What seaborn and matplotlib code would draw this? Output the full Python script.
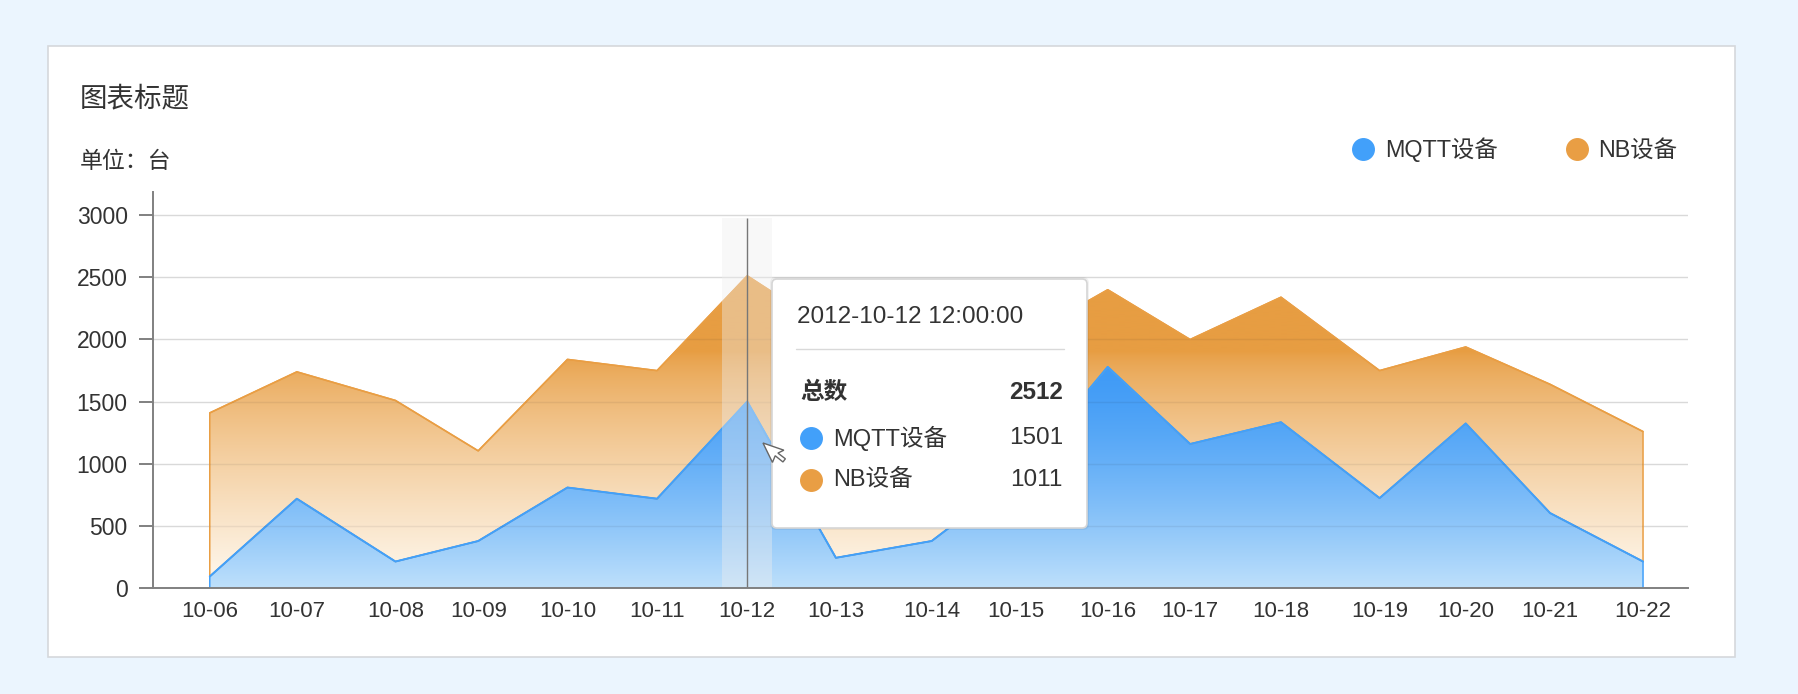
import numpy as np
import pandas as pd
import matplotlib
matplotlib.use("Agg")
import matplotlib.pyplot as plt
import matplotlib.dates as mdates
from matplotlib.patches import FancyBboxPatch, Rectangle, Polygon
from matplotlib.lines import Line2D
from matplotlib.transforms import Affine2D
import seaborn as sns

# --- Data ---
times = ["2012-10-06 12:00", "2012-10-07 11:20", "2012-10-08 13:45", "2012-10-09 11:55",
         "2012-10-10 11:50", "2012-10-11 11:50", "2012-10-12 12:00", "2012-10-13 11:45",
         "2012-10-14 13:25", "2012-10-15 12:00", "2012-10-16 12:35", "2012-10-17 10:40",
         "2012-10-18 11:00", "2012-10-19 13:25", "2012-10-20 12:30", "2012-10-21 11:05",
         "2012-10-22 12:00"]
mqtt = [95, 720, 215, 380, 810, 720, 1501, 245, 380, 895, 1780, 1160, 1335, 725, 1325, 605, 215]
nb = [1315, 1020, 1295, 725, 1030, 1030, 1011, 1805, 1820, 1085, 620, 840, 1005, 1025, 615, 1035, 1045]
series_names = ["MQTT设备", "NB设备"]
series_colors = ["#42A0FA", "#E99E44"]
y_ticks = [0, 500, 1000, 1500, 2000, 2500, 3000]
title = "图表标题"
unit_label = "单位：台"
total_label = "总数"
hover_index = 6

sns.set_theme(style="white")
plt.rcParams['font.family'] = ['Liberation Sans', 'Noto Sans CJK SC', 'DejaVu Sans']
text_color = '#333333'

df = pd.DataFrame({'time': pd.to_datetime(times), 'mqtt': mqtt, 'nb': nb})
df['total'] = df['mqtt'] + df['nb']
x = mdates.date2num(df['time'])

W, H = 1798, 694
fig = plt.figure(figsize=(W / 100, H / 100), dpi=100)
fig.patch.set_facecolor('#EBF5FE')
px = Affine2D().scale(1 / W, -1 / H).translate(0, 1) + fig.transFigure

# white card
fig.add_artist(Rectangle((48, 46), 1687, 611, transform=px, facecolor='white',
                         edgecolor='#d5d8dc', lw=1.2, zorder=-5))

ax = fig.add_axes([152.7 / W, 1 - 588.3 / H, (1688 - 152.7) / W, (588.3 - 191.7) / H])
ax.patch.set_alpha(0)

x0 = x[0] - 0.637
x1 = x[0] + 16.502
ytop = 3188
ax.set_xlim(x0, x1)
ax.set_ylim(0, ytop)


def gradient_area(lower, upper, color, top_rgb, bot_rgb, v_full, power):
    poly = ax.fill_between(x, lower, upper, facecolor='none', edgecolor=color, lw=1.1, zorder=2)
    v = np.linspace(ytop, 0, 500)
    t = np.clip((v_full - v) / v_full, 0, 1) ** power
    c_top = np.array(top_rgb) / 255
    c_bot = np.array(bot_rgb) / 255
    img = c_top[None, :] * (1 - t[:, None]) + c_bot[None, :] * t[:, None]
    im = ax.imshow(img[:, None, :], extent=[x0, x1, 0, ytop], aspect='auto',
                   origin='upper', zorder=1, interpolation='bilinear')
    im.set_clip_path(poly.get_paths()[0], ax.transData)
    return poly


gradient_area(df['mqtt'], df['total'], series_colors[1], (231, 157, 66), (255, 249, 240), 1900, 0.75)
gradient_area(0, df['mqtt'], series_colors[0], (64, 155, 246), (190, 224, 251), 1750, 1.4)

sns.lineplot(x=x, y=df['total'].values, ax=ax, color=series_colors[1], lw=1.1, zorder=2.2)
sns.lineplot(x=x, y=df['mqtt'].values, ax=ax, color=series_colors[0], lw=1.4, zorder=2.3)

# grid
ax.set_yticks(y_ticks)
ax.grid(axis='y', color='#d9d9d9', lw=1.0, zorder=0)
ax.grid(axis='x', visible=False)
area = ax.fill_between(x, 0, df['total'], facecolor='none', edgecolor='none')
over = ax.hlines(y_ticks[1:], x0, x1, color='k', alpha=0.07, lw=1.0, zorder=2.5)
over.set_clip_path(area.get_paths()[0], ax.transData)

# hover band + crosshair
xh = x[hover_index]
ax.axvspan(xh - 0.28, xh + 0.28, ymin=0, ymax=2977 / ytop, color='#eeeeee', alpha=0.4, lw=0, zorder=3)
ax.vlines(xh, 0, 2977, color='#777777', lw=1.0, zorder=3.5)

for s in ['top', 'right']:
    ax.spines[s].set_visible(False)
for s in ['left', 'bottom']:
    ax.spines[s].set_color('#808080')
    ax.spines[s].set_linewidth(1.4)
    ax.spines[s].set_zorder(5)

ax.set_xticks(x)
ax.set_xticklabels(df['time'].dt.strftime('%m-%d'))
ax.tick_params(axis='y', length=10, width=1.4, color='#808080', pad=8, labelsize=16.5,
               labelcolor=text_color, left=True)
ax.tick_params(axis='x', length=0, pad=9, labelsize=16, labelcolor=text_color)
ax.set_xlabel('')
ax.set_ylabel('')

# title and unit
fig.text(80, 99, title, transform=px, fontsize=19.8, color=text_color, va='center', ha='left')
fig.text(80, 162, unit_label, transform=px, fontsize=16.5, color=text_color, va='center', ha='left')

# legend
leg_pos = [(1363, 1385), (1577, 1598)]
for (cx, tx), name, col in zip(leg_pos, series_names, series_colors):
    fig.add_artist(Line2D([cx], [149], transform=px, marker='o', ms=15.5, color=col, lw=0))
    fig.text(tx, 150, name, transform=px, fontsize=16.8, color=text_color, va='center', ha='left')

# tooltip
fig.add_artist(FancyBboxPatch((770, 277), 319, 253, boxstyle='round,pad=0,rounding_size=6',
                              transform=px, facecolor=(0, 0, 0, 0.05), edgecolor='none', zorder=9))
fig.add_artist(FancyBboxPatch((772, 279), 315, 249, boxstyle='round,pad=0,rounding_size=5',
                              transform=px, facecolor='white', edgecolor='#d6d6d6', lw=1.2, zorder=10))
row = df.iloc[hover_index]
fig.text(797, 317, row['time'].strftime('%Y-%m-%d %H:%M:%S'), transform=px, fontsize=17.5,
         color=text_color, va='center', ha='left', zorder=11)
fig.add_artist(Line2D([796, 1064], [349, 349], transform=px, color='#d9d9d9', lw=1.0, zorder=11))
fig.text(800, 393, total_label, transform=px, fontsize=17, fontweight='bold',
         color=text_color, va='center', ha='left', zorder=11)
fig.text(1063, 393, f"{int(row['total'])}", transform=px, fontsize=17.5, fontweight='bold',
         color=text_color, va='center', ha='right', zorder=11)
for yy, name, col, val in zip([438, 480], series_names, series_colors, [row['mqtt'], row['nb']]):
    fig.add_artist(Line2D([811], [yy], transform=px, marker='o', ms=15.5, color=col, lw=0, zorder=11))
    fig.text(833, yy, name, transform=px, fontsize=17, color=text_color, va='center', ha='left', zorder=11)
    fig.text(1063, yy, f"{int(val)}", transform=px, fontsize=17.5, color=text_color,
             va='center', ha='right', zorder=11)

# mouse cursor
arrow = np.array([(0, 0), (0, 18), (4.5, 14), (8, 21.5), (11, 20), (7.5, 13), (13, 13)]) * 1.2
th = np.deg2rad(26)
rot = np.array([[np.cos(th), np.sin(th)], [-np.sin(th), np.cos(th)]])
arrow = arrow @ rot.T + np.array([763, 443])
fig.add_artist(Polygon(arrow, closed=True, transform=px, facecolor='white', edgecolor='#666666',
                       lw=1.0, zorder=12))

fig.savefig('out.png', dpi=100)
